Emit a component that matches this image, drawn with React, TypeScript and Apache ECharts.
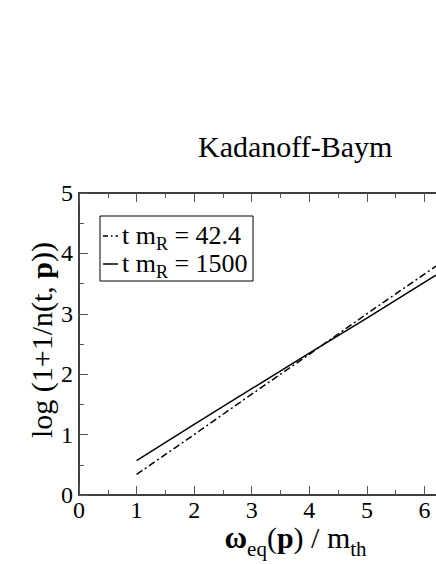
import React, { useEffect, useRef } from "react";
import * as echarts from "echarts";

const xTicks = [0, 1, 2, 3, 4, 5, 6];
const yTicks = [0, 1, 2, 3, 4, 5];
const early: [number, number][] = [
  [1, 0.34], [2, 1.0], [3, 1.67], [4, 2.33], [5, 3.0], [6.2, 3.79],
];
const late: [number, number][] = [
  [1, 0.57], [2, 1.17], [3, 1.76], [4, 2.35], [5, 2.93], [6.2, 3.64],
];
const earlyLabel = "42.4";
const lateLabel = "1500";
const titleText = "Kadanoff-Baym";

const SERIF = "Liberation Serif";

export default function App() {
  const ref = useRef<HTMLDivElement>(null);
  useEffect(() => {
    document.body.style.margin = "0";
    const chart = echarts.init(ref.current!, null, { renderer: "svg" });
    const dashDot = [7, 3, 2, 3];
    const tickStyle = { color: "#555", width: 1 };
    const axisBase = {
      type: "value" as const,
      min: 0,
      max: 6.2,
      interval: 1,
      splitLine: { show: false },
      axisLine: { show: true, onZero: false, lineStyle: { color: "#000", width: 1.5 } },
      axisTick: { show: true, inside: true, length: 9, lineStyle: tickStyle },
      minorTick: { show: true, splitNumber: 2, length: 5, lineStyle: tickStyle },
    };
    const legendRich = {
      m: { fontFamily: SERIF, fontSize: 26, color: "#000", lineHeight: 36, verticalAlign: "middle" },
      s: { fontFamily: SERIF, fontSize: 18, color: "#000", lineHeight: 14, verticalAlign: "bottom" },
    };
    const nameMain = { fontFamily: SERIF, fontSize: 30, color: "#000", lineHeight: 22, verticalAlign: "top" };
    const nameSub = {
      fontFamily: SERIF, fontSize: 21, color: "#000", lineHeight: 20, verticalAlign: "top",
      padding: [16, 0, 0, 0],
    };
    chart.setOption({
      animation: false,
      backgroundColor: "#fff",
      textStyle: { fontFamily: SERIF },
      title: {
        text: titleText,
        left: 198,
        top: 131,
        padding: 0,
        textStyle: {
          fontFamily: SERIF,
          fontSize: 30,
          fontWeight: "normal",
          color: "#000",
        },
      },
      grid: { left: 79, top: 193, width: 359, height: 305 },
      xAxis: [
        {
          ...axisBase,
          position: "bottom",
          axisLabel: {
            fontFamily: SERIF,
            fontSize: 24,
            lineHeight: 12,
            color: "#000",
            margin: 9,
            showMaxLabel: false,
            formatter: (v: number) => (xTicks.includes(v) ? String(v) : ""),
          },
          name: "{w|ω}{s|eq}{m|(}{b|p}{m|) / m}{s|th}",
          nameLocation: "middle",
          nameGap: 27,
          nameMoveOverlap: false,
          nameTextStyle: {
            padding: [0, 0, 0, 76],
            rich: {
              w: { ...nameMain, fontSize: 31, fontWeight: "bold" },
              m: nameMain,
              b: { ...nameMain, fontWeight: "bold" },
              s: nameSub,
            },
          },
        },
        {
          ...axisBase,
          position: "top",
          axisLabel: { show: false },
        },
      ],
      yAxis: {
        type: "value",
        min: 0,
        max: 5,
        interval: 1,
        splitLine: { show: false },
        axisLine: { show: true, onZero: false, lineStyle: { color: "#000", width: 1.5 } },
        axisTick: { show: true, inside: true, length: 9, lineStyle: tickStyle },
        minorTick: { show: true, splitNumber: 2, length: 5, lineStyle: tickStyle },
        axisLabel: {
          fontFamily: SERIF,
          fontSize: 24,
          color: "#000",
          margin: 6,
          formatter: (v: number) => (yTicks.includes(v) ? String(v) : ""),
        },
        name: "{m|log (1+1/n(t, }{b|p}{m|))}",
        nameLocation: "middle",
        nameRotate: 90,
        nameGap: 23,
        nameMoveOverlap: false,
        nameTextStyle: {
          padding: [0, 0, 0, 8],
          rich: {
            m: { fontFamily: SERIF, fontSize: 30, color: "#000" },
            b: { fontFamily: SERIF, fontSize: 30, fontWeight: "bold", color: "#000" },
          },
        },
      },
      series: [
        {
          name: "t m_R = " + earlyLabel,
          type: "line",
          data: early,
          showSymbol: false,
          symbol: "none",
          lineStyle: { color: "#000", width: 1.5, type: dashDot },
          xAxisIndex: 0,
          yAxisIndex: 0,
        },
        {
          name: "t m_R = " + lateLabel,
          type: "line",
          data: late,
          showSymbol: false,
          symbol: "none",
          lineStyle: { color: "#000", width: 1.5 },
          xAxisIndex: 0,
          yAxisIndex: 0,
        },
      ],
      graphic: [
        {
          type: "rect",
          shape: { x: 100, y: 216, width: 153, height: 65 },
          style: { fill: "#fff", stroke: "#000", lineWidth: 1 },
          z: 10,
        },
        {
          type: "line",
          shape: { x1: 103, y1: 236, x2: 118, y2: 236 },
          style: { stroke: "#000", lineWidth: 1.5, lineDash: [5, 3, 1.5, 3] },
          z: 11,
        },
        {
          type: "line",
          shape: { x1: 103, y1: 264, x2: 118, y2: 264 },
          style: { stroke: "#000", lineWidth: 1.5 },
          z: 11,
        },
        {
          type: "text",
          x: 122,
          y: 217,
          z: 11,
          style: {
            text: "{m|t m}{s|R}{m| = " + earlyLabel + "}",
            rich: legendRich,
          },
        },
        {
          type: "text",
          x: 122,
          y: 245,
          z: 11,
          style: {
            text: "{m|t m}{s|R}{m| = " + lateLabel + "}",
            rich: legendRich,
          },
        },
      ],
    });
    return () => chart.dispose();
  }, []);
  return <div ref={ref} style={{ width: 436, height: 564 }} />;
}
